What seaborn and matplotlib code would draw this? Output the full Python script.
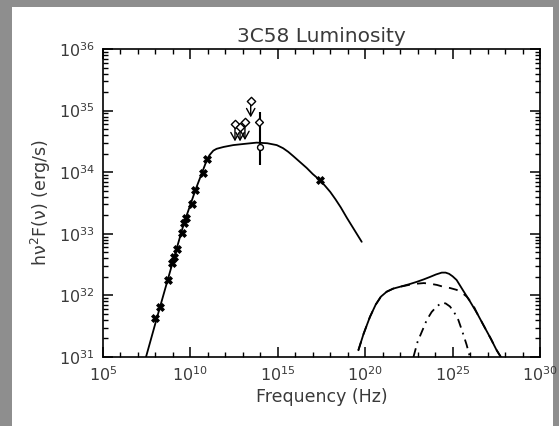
import numpy as np
import pandas as pd
import matplotlib
matplotlib.use("Agg")
import matplotlib.pyplot as plt
import seaborn as sns
from matplotlib.patches import Rectangle

# ---------------- data (log10 values) ----------------
radio_logf = [7.97, 8.26, 8.70, 8.93, 9.06, 9.22, 9.50, 9.63, 9.72, 10.07, 10.26, 10.70, 10.93, 17.41]
radio_logL = [31.63, 31.81, 32.25, 32.52, 32.62, 32.75, 33.01, 33.17, 33.26, 33.48, 33.71, 33.99, 34.21, 33.87]

sync_logf = [7.46, 8.0, 9.0, 9.63, 10.3, 10.93, 11.1, 11.31, 11.5, 11.9, 12.45, 13.1, 13.79,
             14.4, 14.94, 15.3, 15.6, 15.89, 16.25, 16.65, 17.0, 17.41, 17.7, 18.0, 18.3,
             18.6, 18.95, 19.32, 19.8]
sync_logL = [31.0, 31.55, 32.55, 33.17, 33.72, 34.19, 34.28, 34.35, 34.38, 34.41, 34.44, 34.46, 34.48,
             34.47, 34.44, 34.39, 34.33, 34.26, 34.17, 34.07, 33.97, 33.87, 33.78, 33.68, 33.56,
             33.43, 33.26, 33.09, 32.87]

ul_logf = [12.55, 12.84, 13.12, 13.45]
ul_logL = [34.78, 34.74, 34.82, 35.16]
ul_tip_logL = [34.50, 34.50, 34.52, 34.89]

det_logf = [13.98]
det_logL = [34.41]
det_lo_logL = [34.12]
det_hi_logL = [34.98]
det2_logf = [13.94]
det2_logL = [34.82]

tot_logf = [19.61, 19.9, 20.27, 20.6, 20.9, 21.23, 21.6, 21.99, 22.5, 22.95, 23.35, 23.71, 24.05,
            24.38, 24.6, 24.8, 25.0, 25.23, 25.6, 26.0, 26.4, 26.76, 27.2, 27.5, 27.76]
tot_logL = [31.11, 31.37, 31.65, 31.85, 31.98, 32.06, 32.11, 32.14, 32.18, 32.22, 32.26, 32.30, 32.34,
            32.37, 32.37, 32.35, 32.31, 32.25, 32.08, 31.90, 31.71, 31.52, 31.29, 31.12, 31.0]

ic_logf = [19.61, 19.9, 20.27, 20.6, 20.9, 21.23, 21.6, 21.99, 22.5, 22.95, 23.35, 23.71, 24.1,
           24.47, 24.85, 25.23, 25.55, 25.81, 26.0, 26.18, 26.4, 26.76, 27.2, 27.5, 27.76]
ic_logL = [31.11, 31.37, 31.65, 31.85, 31.98, 32.06, 32.11, 32.14, 32.17, 32.19, 32.20, 32.19, 32.17,
           32.14, 32.12, 32.09, 32.04, 31.98, 31.91, 31.84, 31.71, 31.52, 31.29, 31.12, 31.0]

pi_logf = [22.76, 23.0, 23.3, 23.52, 23.8, 24.09, 24.38, 24.6, 24.85, 25.1, 25.33, 25.55, 25.8, 25.99]
pi_logL = [31.0, 31.25, 31.45, 31.60, 31.73, 31.82, 31.88, 31.87, 31.82, 31.72, 31.60, 31.42, 31.2, 31.0]

x_major = [5, 10, 15, 20, 25, 30]
y_major = [31, 32, 33, 34, 35, 36]

title = "3C58 Luminosity"
xlabel = "Frequency (Hz)"
ylabel = r"h$\nu^2$F($\nu$) (erg/s)"

# ---------------- styling ----------------
sns.set_theme(style="ticks")
plt.rcParams["font.family"] = ["DejaVu Sans"]
plt.rcParams["mathtext.fontset"] = "custom"
plt.rcParams["mathtext.rm"] = "DejaVu Sans"
plt.rcParams["mathtext.it"] = "DejaVu Sans"
plt.rcParams["mathtext.bf"] = "DejaVu Sans:bold"

W, H = 559, 426
fig = plt.figure(figsize=(W / 100, H / 100), dpi=100)
fig.patch.set_facecolor("#8e8e8e")
fig.add_artist(Rectangle((12 / W, 0), (553 - 12) / W, (H - 7) / H,
                         transform=fig.transFigure, facecolor="white",
                         edgecolor="none", zorder=0))

ax = fig.add_axes([103 / W, 1 - 357 / H, (540 - 103) / W, (357 - 49) / H])
ax.set_facecolor("white")

def df(lf, ll):
    return pd.DataFrame({"f": 10 ** np.asarray(lf, float), "L": 10 ** np.asarray(ll, float)})

lw = 1.3
sns.lineplot(data=df(sync_logf, sync_logL), x="f", y="L", ax=ax, color="black",
             lw=lw, sort=False, estimator=None)
sns.lineplot(data=df(tot_logf, tot_logL), x="f", y="L", ax=ax, color="black",
             lw=lw, sort=False, estimator=None)
sns.lineplot(data=df(ic_logf, ic_logL), x="f", y="L", ax=ax, color="black",
             lw=lw, sort=False, estimator=None)
ax.lines[-1].set_dashes([5, 4])
sns.lineplot(data=df(pi_logf, pi_logL), x="f", y="L", ax=ax, color="black",
             lw=lw, sort=False, estimator=None)
ax.lines[-1].set_dashes([5, 3, 1, 3])

# radio / x-ray points
sns.scatterplot(data=df(radio_logf, radio_logL), x="f", y="L", ax=ax, marker="X",
                color="black", s=32, edgecolor="black", linewidth=0.6, zorder=5)

# upper limits
for f, L, t in zip(ul_logf, ul_logL, ul_tip_logL):
    ax.annotate("", xy=(10 ** f, 10 ** t), xytext=(10 ** f, 10 ** L),
                arrowprops=dict(arrowstyle="->,head_length=0.45,head_width=0.25",
                                color="black", lw=1.0, shrinkA=3, shrinkB=0))
sns.scatterplot(data=df(ul_logf, ul_logL), x="f", y="L", ax=ax, marker="D",
                facecolor="white", edgecolor="black", s=18, linewidth=1.0, zorder=6)

# detection with error bar
for f, lo, hi in zip(det_logf, det_lo_logL, det_hi_logL):
    ax.vlines(10 ** f, 10 ** lo, 10 ** hi, color="black", lw=1.5, zorder=4)
sns.scatterplot(data=df(det_logf, det_logL), x="f", y="L", ax=ax, marker="o",
                facecolor="white", edgecolor="black", s=18, linewidth=1.0, zorder=6)
sns.scatterplot(data=df(det2_logf, det2_logL), x="f", y="L", ax=ax, marker="D",
                facecolor="white", edgecolor="black", s=16, linewidth=1.0, zorder=6)

# ---------------- axes ----------------
ax.set_xscale("log")
ax.set_yscale("log")
ax.set_xlim(1e5, 1e30)
ax.set_ylim(1e31, 1e36)

ax.set_xticks([10.0 ** k for k in x_major])
ax.set_xticklabels([r"$10^{%d}$" % k for k in x_major])
ax.set_xticks([10.0 ** k for k in range(x_major[0], x_major[-1] + 1)], minor=True)
ax.set_yticks([10.0 ** k for k in y_major])
ax.set_yticklabels([r"$10^{%d}$" % k for k in y_major])
ax.set_yticks([m * 10.0 ** k for k in y_major[:-1] for m in range(2, 10)], minor=True)
ax.xaxis.set_minor_formatter(matplotlib.ticker.NullFormatter())
ax.yaxis.set_minor_formatter(matplotlib.ticker.NullFormatter())

txt = "#3a3a3a"
ax.tick_params(which="both", direction="in", top=True, right=True,
               color="black", labelcolor=txt, labelsize=11.5)
ax.tick_params(which="major", length=7, width=1.1, pad=6)
ax.tick_params(which="minor", length=3.5, width=1.0)
for s in ax.spines.values():
    s.set_visible(True)
    s.set_linewidth(1.2)
    s.set_color("black")

ax.set_xlabel(xlabel, fontsize=12.5, color=txt, labelpad=3)
ax.set_ylabel(ylabel, fontsize=12.5, color=txt, labelpad=4)
ax.set_title(title, fontsize=14.5, color=txt, pad=5)

fig.savefig("out.png", dpi=100, facecolor=fig.get_facecolor())
